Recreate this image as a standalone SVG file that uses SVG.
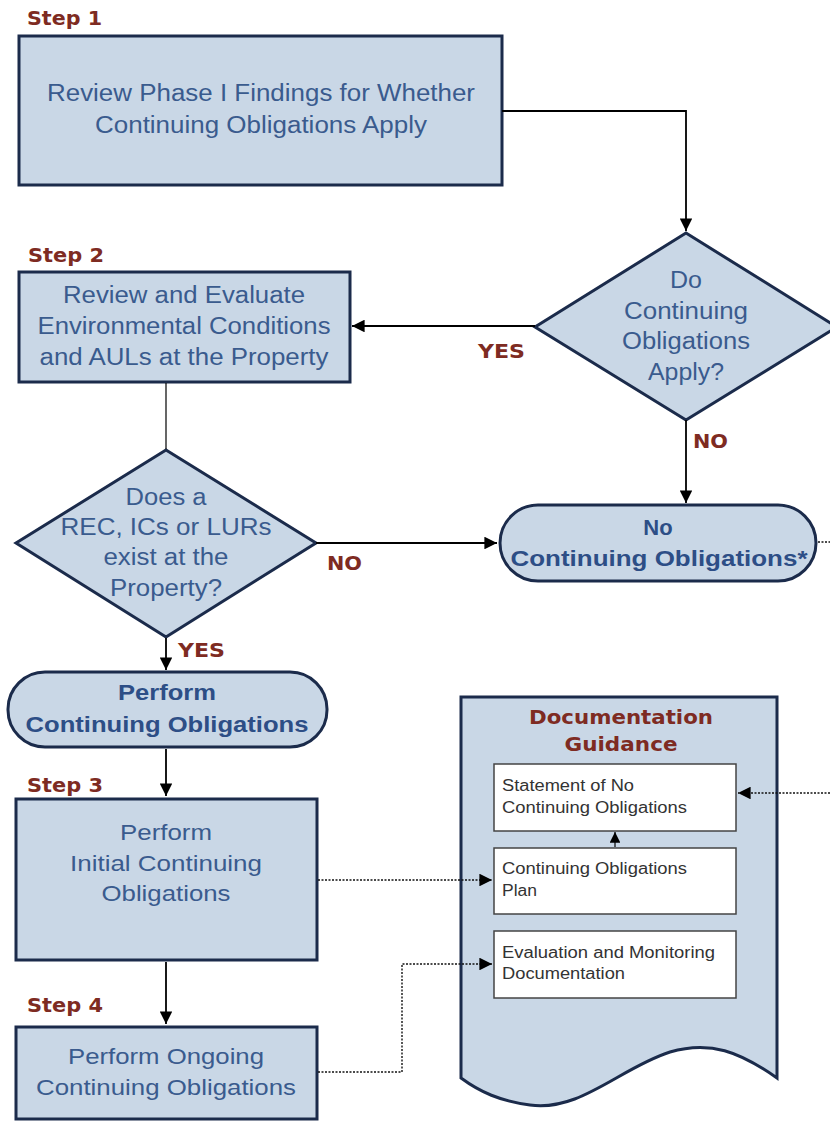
<svg xmlns="http://www.w3.org/2000/svg" width="830" height="1121" viewBox="0 0 830 1121">
<style>
.shape{fill:#C9D7E6;stroke:#1B2B4B;stroke-width:3}
.wbox{fill:#FFFFFF;stroke:#444;stroke-width:1.5}
.t{font-family:"Liberation Sans",Arial,sans-serif;font-size:23px;fill:#3A5B8E;text-anchor:middle}
.tr{font-family:"Liberation Sans",Arial,sans-serif;font-size:22px;fill:#3A5B8E;text-anchor:middle}
.tb{font-family:"Liberation Sans",Arial,sans-serif;font-size:22px;font-weight:bold;fill:#2D4E86;text-anchor:middle}
.step{font-family:"DejaVu Sans",Verdana,sans-serif;font-size:20px;font-weight:bold;fill:#7E2B22}
.lbl{font-family:"DejaVu Sans",Verdana,sans-serif;font-size:19px;font-weight:bold;fill:#7E2B22}
.doc{font-family:"Liberation Sans",Arial,sans-serif;font-size:16px;fill:#333333}
.conn{fill:none;stroke:#000;stroke-width:1.8}
.dash{fill:none;stroke:#111;stroke-width:1.4;stroke-dasharray:2 1.5}
</style>
<defs>
<marker id="ah" viewBox="0 0 10 10" refX="10" refY="5" markerWidth="7" markerHeight="7" orient="auto" markerUnits="strokeWidth">
<path d="M0,0 L10,5 L0,10 z" fill="#000"/>
</marker>
<marker id="ahd" viewBox="0 0 10 10" refX="10" refY="5" markerWidth="9" markerHeight="9" orient="auto" markerUnits="strokeWidth">
<path d="M0,0 L10,5 L0,10 z" fill="#000"/>
</marker>
</defs>

<g id="step1">
<text class="step" x="27" y="25" textLength="75" lengthAdjust="spacingAndGlyphs">Step 1</text>
<rect class="shape" x="19" y="36" width="483" height="149"/>
<text class="t" x="261" y="101" textLength="428" lengthAdjust="spacingAndGlyphs">Review Phase I Findings for Whether</text>
<text class="t" x="261" y="133" textLength="332" lengthAdjust="spacingAndGlyphs">Continuing Obligations Apply</text>
</g>

<g id="decision1">
<polygon class="shape" points="686,233 837,327 686,420 535,327"/>
<text class="t" x="686" y="288" textLength="32" lengthAdjust="spacingAndGlyphs">Do</text>
<text class="t" x="686" y="319" textLength="124" lengthAdjust="spacingAndGlyphs">Continuing</text>
<text class="t" x="686" y="349" textLength="128" lengthAdjust="spacingAndGlyphs">Obligations</text>
<text class="t" x="686" y="380" textLength="76" lengthAdjust="spacingAndGlyphs">Apply?</text>
</g>

<g id="step2">
<text class="step" x="28" y="262" textLength="76" lengthAdjust="spacingAndGlyphs">Step 2</text>
<rect class="shape" x="19" y="272" width="331" height="110"/>
<text class="t" x="184" y="303" textLength="242" lengthAdjust="spacingAndGlyphs">Review and Evaluate</text>
<text class="t" x="184" y="334" textLength="293" lengthAdjust="spacingAndGlyphs">Environmental Conditions</text>
<text class="t" x="184" y="365" textLength="289" lengthAdjust="spacingAndGlyphs">and AULs at the Property</text>
</g>

<g id="noCO">
<rect class="shape" x="500" y="505" width="316" height="76" rx="38" ry="38"/>
<text class="tb" x="658" y="535">No</text>
<text class="tb" x="659" y="566" textLength="297" lengthAdjust="spacingAndGlyphs">Continuing Obligations*</text>
</g>

<g id="decision2">
<polygon class="shape" points="166,450 316,543 166,637 16,543"/>
<text class="t" x="166" y="505" textLength="81" lengthAdjust="spacingAndGlyphs">Does a</text>
<text class="t" x="166" y="535" textLength="211" lengthAdjust="spacingAndGlyphs">REC, ICs or LURs</text>
<text class="t" x="166" y="565" textLength="125" lengthAdjust="spacingAndGlyphs">exist at the</text>
<text class="t" x="166" y="596" textLength="112" lengthAdjust="spacingAndGlyphs">Property?</text>
</g>

<g id="performCO">
<rect class="shape" x="8" y="672" width="319" height="75" rx="37" ry="37"/>
<text class="tb" x="167" y="700" textLength="98" lengthAdjust="spacingAndGlyphs">Perform</text>
<text class="tb" x="167" y="732" textLength="283" lengthAdjust="spacingAndGlyphs">Continuing Obligations</text>
</g>

<g id="step3">
<text class="step" x="27" y="792" textLength="76" lengthAdjust="spacingAndGlyphs">Step 3</text>
<rect class="shape" x="16" y="799" width="301" height="161"/>
<text class="tr" x="166" y="840" textLength="92" lengthAdjust="spacingAndGlyphs">Perform</text>
<text class="tr" x="166" y="871" textLength="192" lengthAdjust="spacingAndGlyphs">Initial Continuing</text>
<text class="tr" x="166" y="901" textLength="129" lengthAdjust="spacingAndGlyphs">Obligations</text>
</g>

<g id="step4">
<text class="step" x="27" y="1012" textLength="76" lengthAdjust="spacingAndGlyphs">Step 4</text>
<rect class="shape" x="16" y="1027" width="301" height="92"/>
<text class="tr" x="166" y="1064" textLength="196" lengthAdjust="spacingAndGlyphs">Perform Ongoing</text>
<text class="tr" x="166" y="1095" textLength="260" lengthAdjust="spacingAndGlyphs">Continuing Obligations</text>
</g>

<g id="docGuidance">
<path class="shape" d="M461,697 H777 V1078 C740,1052 710,1040 670,1052 C620,1068 580,1112 530,1105 C500,1101 480,1092 461,1078 Z"/>
<text class="step" x="621" y="724" text-anchor="middle" textLength="184" lengthAdjust="spacingAndGlyphs">Documentation</text>
<text class="step" x="621" y="751" text-anchor="middle" textLength="113" lengthAdjust="spacingAndGlyphs">Guidance</text>
</g>

<g id="docStatement">
<rect class="wbox" x="494" y="764" width="242" height="67"/>
<text class="doc" x="502" y="791" textLength="132" lengthAdjust="spacingAndGlyphs">Statement of No</text>
<text class="doc" x="502" y="813" textLength="185" lengthAdjust="spacingAndGlyphs">Continuing Obligations</text>
</g>

<g id="docPlan">
<rect class="wbox" x="494" y="848" width="242" height="66"/>
<text class="doc" x="502" y="874" textLength="185" lengthAdjust="spacingAndGlyphs">Continuing Obligations</text>
<text class="doc" x="502" y="896" textLength="35" lengthAdjust="spacingAndGlyphs">Plan</text>
</g>

<g id="docEval">
<rect class="wbox" x="494" y="931" width="242" height="67"/>
<text class="doc" x="502" y="958" textLength="213" lengthAdjust="spacingAndGlyphs">Evaluation and Monitoring</text>
<text class="doc" x="502" y="979" textLength="123" lengthAdjust="spacingAndGlyphs">Documentation</text>
</g>

<g id="connectors">
<path class="conn" d="M502,111 H686 V231" marker-end="url(#ah)"/>
<path class="conn" d="M535,326 H352" marker-end="url(#ah)"/>
<path class="conn" d="M686,420 V503" marker-end="url(#ah)"/>
<path class="conn" d="M166,383 V449" style="stroke-width:1.2"/>
<path class="conn" d="M316,543 H497" marker-end="url(#ah)"/>
<path class="conn" d="M166,638 V670" marker-end="url(#ah)"/>
<path class="conn" d="M166,749 V796" marker-end="url(#ah)"/>
<path class="conn" d="M166,962 V1024" marker-end="url(#ah)"/>
<path class="dash" d="M818,542 H830"/>
<path class="dash" d="M830,793 H738" marker-end="url(#ahd)"/>
<path class="dash" d="M318,880 H492" marker-end="url(#ahd)"/>
<path class="dash" d="M318,1072 H402 V964 H492" marker-end="url(#ahd)"/>
<path class="conn" d="M615,847 V832" style="stroke-width:1.2" marker-end="url(#ahd)"/>
<text class="lbl" x="478" y="358" textLength="47" lengthAdjust="spacingAndGlyphs">YES</text>
<text class="lbl" x="693" y="448" textLength="35" lengthAdjust="spacingAndGlyphs">NO</text>
<text class="lbl" x="327" y="570" textLength="35" lengthAdjust="spacingAndGlyphs">NO</text>
<text class="lbl" x="178" y="657" textLength="47" lengthAdjust="spacingAndGlyphs">YES</text>
</g>
</svg>
